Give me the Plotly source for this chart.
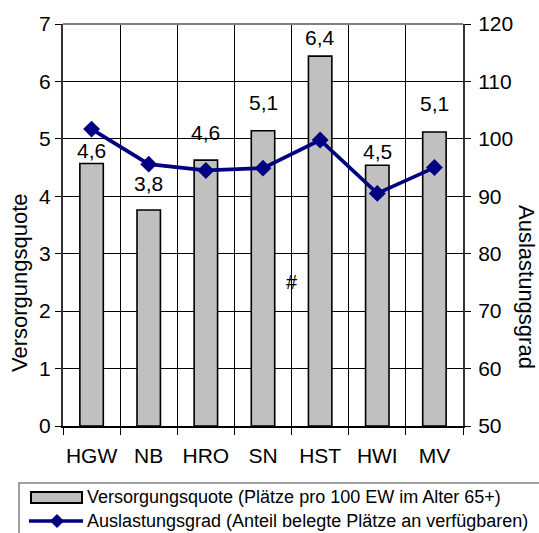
import plotly.graph_objects as go

# ---- data ----
categories = ["HGW", "NB", "HRO", "SN", "HST", "HWI", "MV"]
versorgungsquote = [4.57, 3.76, 4.63, 5.14, 6.44, 4.54, 5.12]
auslastungsgrad = [101.7, 95.6, 94.5, 94.9, 99.8, 90.5, 95.0]
left_ticks = [0, 1, 2, 3, 4, 5, 6, 7]
right_ticks = [50, 60, 70, 80, 90, 100, 110, 120]
bar_name = "Versorgungsquote (Plätze pro 100 EW im Alter 65+)"
line_name = "Auslastungsgrad (Anteil belegte Plätze an verfügbaren)"

# ---- styling / layout helpers ----
W, H = 539, 533
L, R, T, B = 63, 76, 24, 107
PW, PH = W - L - R, H - T - B
FONT = "Liberation Sans, Arial, sans-serif"
label_shift = [13, 27, 28, 28, 19, 14, 28]  # pixel offsets of value labels


def px(x):
    return (x - L) / PW


def py(y):
    return (H - B - y) / PH


fig = go.Figure()
fig.add_trace(go.Bar(
    x=categories, y=versorgungsquote, name=bar_name,
    marker=dict(color="#C0C0C0", line=dict(color="black", width=1.6)),
    width=0.41, showlegend=False, hoverinfo="y",
))
fig.add_trace(go.Scatter(
    x=categories, y=auslastungsgrad, name=line_name, yaxis="y2",
    mode="lines+markers",
    line=dict(color="#000080", width=3.7),
    marker=dict(symbol="diamond", size=13, color="#000080"),
    showlegend=False, cliponaxis=False,
))

annotations = []
for c, v, s in zip(categories, versorgungsquote, label_shift):
    annotations.append(dict(
        x=c, y=v, xref="x", yref="y", text=f"{v:.1f}".replace(".", ","),
        showarrow=False, xanchor="center", yanchor="middle", yshift=s,
        font=dict(family=FONT, size=21, color="black"),
    ))
annotations.append(dict(x=3.5, y=2.5, xref="x", yref="y", text="#", showarrow=False,
                        xanchor="center", yanchor="middle",
                        font=dict(family=FONT, size=20, color="black")))
annotations.append(dict(x=px(19), y=py(283), xref="paper", yref="paper",
                        xanchor="center", yanchor="middle",
                        text="Versorgungsquote", textangle=-90, showarrow=False,
                        font=dict(family=FONT, size=22, color="black")))
annotations.append(dict(x=px(527), y=py(287), xref="paper", yref="paper",
                        xanchor="center", yanchor="middle",
                        text="Auslastungsgrad", textangle=90, showarrow=False,
                        font=dict(family=FONT, size=22, color="black")))
# legend texts
annotations.append(dict(x=px(85), y=py(497), xref="paper", yref="paper",
                        xanchor="left", yanchor="middle",
                        text=bar_name, showarrow=False,
                        font=dict(family=FONT, size=18, color="black")))
annotations.append(dict(x=px(85), y=py(521), xref="paper", yref="paper",
                        xanchor="left", yanchor="middle",
                        text=line_name, showarrow=False,
                        font=dict(family=FONT, size=18, color="black")))

shapes = [
    # top border of plot area
    dict(type="line", xref="paper", yref="paper", x0=0, x1=1, y0=1, y1=1,
         line=dict(color="#808080", width=2)),
    # legend box
    dict(type="rect", xref="paper", yref="paper", x0=px(19), x1=px(560), y0=py(483), y1=py(560),
         line=dict(color="#808080", width=1.5), fillcolor="white", layer="below"),
    # bar swatch
    dict(type="rect", xref="paper", yref="paper", x0=px(31), x1=px(82), y0=py(492), y1=py(503),
         line=dict(color="black", width=2), fillcolor="#C0C0C0"),
    # line swatch
    dict(type="line", xref="paper", yref="paper", x0=px(29), x1=px(83), y0=py(521), y1=py(521),
         line=dict(color="#000080", width=3.7)),
    dict(type="path", xref="paper", yref="paper",
         path=f"M {px(50.5)} {py(521)} L {px(57)} {py(514.5)} L {px(63.5)} {py(521)} L {px(57)} {py(527.5)} Z",
         fillcolor="#000080", line=dict(color="#000080", width=1)),
]

fig.update_layout(
    width=W, height=H, autosize=False,
    margin=dict(l=L, r=R, t=T, b=B, pad=0),
    paper_bgcolor="white", plot_bgcolor="white",
    font=dict(family=FONT, size=21, color="black"),
    showlegend=False, bargap=0.59,
    xaxis=dict(
        type="category", range=[-0.5, 6.5], tickson="boundaries",
        showgrid=True, gridcolor="black", gridwidth=1,
        showline=True, linecolor="black", linewidth=2,
        ticks="outside", ticklen=7, tickcolor="black", tickwidth=1,
        tickangle=0, ticklabelstandoff=10,
        tickfont=dict(family=FONT, size=21, color="black"),
    ),
    yaxis=dict(
        range=[0, 7], tickvals=left_ticks,
        showgrid=True, gridcolor="black", gridwidth=1,
        showline=True, linecolor="#333333", linewidth=2,
        ticks="outside", ticklen=6, tickcolor="black",
        tickfont=dict(family=FONT, size=21, color="black"),
        zeroline=False,
    ),
    yaxis2=dict(
        range=[50, 120], tickvals=right_ticks, overlaying="y", side="right",
        showgrid=False, showline=True, linecolor="#333333", linewidth=2,
        ticks="outside", ticklen=6, tickcolor="black",
        ticklabelstandoff=3,
        tickfont=dict(family=FONT, size=21, color="black"),
        zeroline=False,
    ),
    annotations=annotations, shapes=shapes,
)

fig.write_html("out.html")
